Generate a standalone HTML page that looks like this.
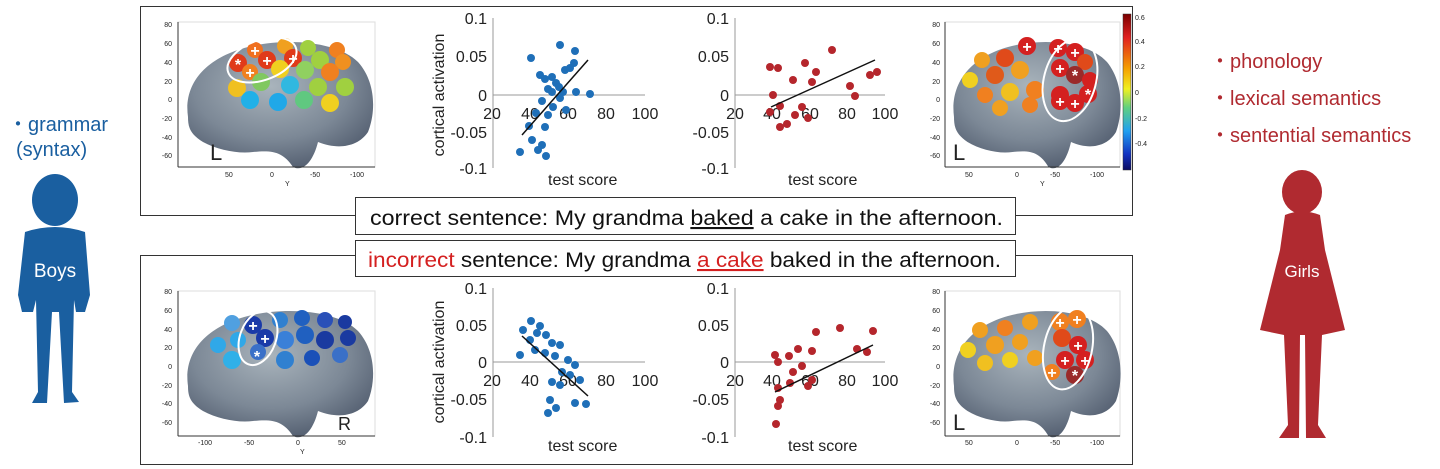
<!DOCTYPE html>
<html><head><meta charset="utf-8"><style>
body{margin:0;background:#fff;}
svg{display:block;font-family:"Liberation Sans","DejaVu Sans",sans-serif;}
</style></head><body>
<svg width="1440" height="469" viewBox="0 0 1440 469" xmlns="http://www.w3.org/2000/svg">
<defs>
<radialGradient id="br" cx="0.45" cy="0.35" r="0.7">
<stop offset="0" stop-color="#a9b4bc"/><stop offset="0.6" stop-color="#7c8896"/><stop offset="1" stop-color="#4f5a6c"/>
</radialGradient>
<linearGradient id="cb" x1="0" y1="0" x2="0" y2="1">
<stop offset="0" stop-color="#7a0000"/><stop offset="0.15" stop-color="#e02020"/><stop offset="0.35" stop-color="#f5a000"/><stop offset="0.48" stop-color="#f0f020"/><stop offset="0.6" stop-color="#60d080"/><stop offset="0.75" stop-color="#20a0f0"/><stop offset="0.9" stop-color="#1030c0"/><stop offset="1" stop-color="#0a0a60"/>
</linearGradient>
<g id="brain">
<path d="M10 95 C5 60 30 35 70 25 C110 15 160 20 180 40 C198 60 198 90 190 110 C180 125 160 128 140 120 C135 140 125 150 115 145 C105 130 95 128 75 130 C60 132 40 128 25 120 C12 112 10 105 10 95Z" fill="url(#br)"/>
</g>
</defs>
<rect x="140.5" y="6.5" width="992" height="209" fill="none" stroke="#333" stroke-width="1"/>
<rect x="140.5" y="255.5" width="992" height="209" fill="none" stroke="#333" stroke-width="1"/>
<rect x="355.5" y="197.5" width="660" height="37" fill="#fff" stroke="#333"/>
<rect x="355.5" y="240.5" width="660" height="36" fill="#fff" stroke="#333"/>
<text x="370" y="225" font-size="21" fill="#111" textLength="633" lengthAdjust="spacingAndGlyphs">correct sentence: My grandma <tspan text-decoration="underline">baked</tspan> a cake in the afternoon.</text>
<text x="368" y="267" font-size="21" fill="#111" textLength="633" lengthAdjust="spacingAndGlyphs"><tspan fill="#d42020">incorrect</tspan> sentence: My grandma <tspan fill="#d42020" text-decoration="underline">a cake</tspan> baked in the afternoon.</text>

<text x="8" y="131" font-size="20" fill="#1a5fa0">・grammar</text>
<text x="16" y="156" font-size="20" fill="#1a5fa0">(syntax)</text>
<g fill="#1a5fa0">
<ellipse cx="55" cy="200" rx="23" ry="26"/>
<path d="M25 232 Q55 222 85 232 L90 295 L85 312 L76 312 L74 300 L72 392 L79 402 L64 403 L59 312 L52 312 L47 403 L32 403 L38 392 L36 300 L33 312 L22 312 L18 295Z"/>
</g>
<text x="55" y="277" font-size="19" fill="#fff" text-anchor="middle">Boys</text>

<text x="1210" y="68" font-size="20" fill="#b02a30">・phonology</text>
<text x="1210" y="105" font-size="20" fill="#b02a30">・lexical semantics</text>
<text x="1210" y="142" font-size="20" fill="#b02a30">・sentential semantics</text>
<g fill="#b02a30">
<ellipse cx="1302" cy="192" rx="20" ry="22"/>
<path d="M1285 215 Q1302 208 1320 215 L1325 250 L1330 270 L1345 330 L1322 335 L1318 425 L1326 438 L1306 438 L1305 335 L1300 335 L1299 438 L1279 438 L1288 425 L1284 335 L1260 330 L1275 270 L1280 250Z"/>
</g>
<text x="1302" y="277" font-size="17" fill="#fff" text-anchor="middle">Girls</text>

<g font-size="7" fill="#222">
<g transform="translate(178,22)">
<rect x="0" y="0" width="197" height="145" fill="none" stroke="#ddd"/>
<use href="#brain"/>
<line x1="0" y1="0" x2="0" y2="145" stroke="#333"/><line x1="0" y1="145" x2="197" y2="145" stroke="#333"/>
</g>
<text x="172" y="27" text-anchor="end">80</text><text x="172" y="46" text-anchor="end">60</text><text x="172" y="65" text-anchor="end">40</text><text x="172" y="84" text-anchor="end">20</text><text x="172" y="102" text-anchor="end">0</text><text x="172" y="121" text-anchor="end">-20</text><text x="172" y="140" text-anchor="end">-40</text><text x="172" y="158" text-anchor="end">-60</text>
<text x="225" y="177">50</text><text x="270" y="177">0</text><text x="310" y="177">-50</text><text x="350" y="177">-100</text>
<text x="285" y="186">Y</text>
<text x="210" y="160" font-size="22">L</text>
<g transform="translate(945,22)">
<rect x="0" y="0" width="175" height="145" fill="none" stroke="#ddd"/>
<use href="#brain" transform="scale(0.9,1)"/>
<line x1="0" y1="0" x2="0" y2="145" stroke="#333"/><line x1="0" y1="145" x2="175" y2="145" stroke="#333"/>
</g>
<text x="940" y="27" text-anchor="end">80</text><text x="940" y="46" text-anchor="end">60</text><text x="940" y="65" text-anchor="end">40</text><text x="940" y="84" text-anchor="end">20</text><text x="940" y="102" text-anchor="end">0</text><text x="940" y="121" text-anchor="end">-20</text><text x="940" y="140" text-anchor="end">-40</text><text x="940" y="158" text-anchor="end">-60</text>
<text x="965" y="177">50</text><text x="1015" y="177">0</text><text x="1050" y="177">-50</text><text x="1090" y="177">-100</text>
<text x="1040" y="186">Y</text>
<text x="953" y="160" font-size="22">L</text>
<rect x="1123" y="14" width="8" height="156" fill="url(#cb)" stroke="#333" stroke-width="0.5"/>
<text x="1135" y="20">0.6</text><text x="1135" y="44">0.4</text><text x="1135" y="69">0.2</text><text x="1135" y="95">0</text><text x="1135" y="121">-0.2</text><text x="1135" y="146">-0.4</text>
<g transform="translate(178,291)">
<rect x="0" y="0" width="197" height="145" fill="none" stroke="#ddd"/>
<use href="#brain"/>
<line x1="0" y1="0" x2="0" y2="145" stroke="#333"/><line x1="0" y1="145" x2="197" y2="145" stroke="#333"/>
</g>
<text x="172" y="294" text-anchor="end">80</text><text x="172" y="313" text-anchor="end">60</text><text x="172" y="332" text-anchor="end">40</text><text x="172" y="350" text-anchor="end">20</text><text x="172" y="369" text-anchor="end">0</text><text x="172" y="388" text-anchor="end">-20</text><text x="172" y="406" text-anchor="end">-40</text><text x="172" y="425" text-anchor="end">-60</text>
<text x="198" y="445">-100</text><text x="244" y="445">-50</text><text x="296" y="445">0</text><text x="338" y="445">50</text>
<text x="300" y="454">Y</text>
<text x="338" y="430" font-size="18">R</text>
<g transform="translate(945,291)">
<rect x="0" y="0" width="175" height="145" fill="none" stroke="#ddd"/>
<use href="#brain" transform="scale(0.9,1)"/>
<line x1="0" y1="0" x2="0" y2="145" stroke="#333"/><line x1="0" y1="145" x2="175" y2="145" stroke="#333"/>
</g>
<text x="940" y="294" text-anchor="end">80</text><text x="940" y="313" text-anchor="end">60</text><text x="940" y="332" text-anchor="end">40</text><text x="940" y="350" text-anchor="end">20</text><text x="940" y="369" text-anchor="end">0</text><text x="940" y="388" text-anchor="end">-20</text><text x="940" y="406" text-anchor="end">-40</text><text x="940" y="425" text-anchor="end">-60</text>
<text x="965" y="445">50</text><text x="1015" y="445">0</text><text x="1050" y="445">-50</text><text x="1090" y="445">-100</text>
<text x="953" y="430" font-size="22">L</text>
</g>

<g>
<circle cx="238" cy="63" r="9" fill="#e03a1a"/><circle cx="255" cy="50" r="8" fill="#f07020"/><circle cx="267" cy="60" r="9" fill="#e03a1a"/><circle cx="250" cy="72" r="8" fill="#f08020"/>
<circle cx="285" cy="46" r="8" fill="#f0a020"/><circle cx="293" cy="58" r="9" fill="#e03a1a"/><circle cx="280" cy="69" r="9" fill="#f0d020"/>
<circle cx="308" cy="48" r="8" fill="#a0d040"/><circle cx="320" cy="60" r="9" fill="#a0d040"/><circle cx="337" cy="50" r="8" fill="#f08020"/><circle cx="343" cy="62" r="8" fill="#f09020"/>
<circle cx="305" cy="70" r="9" fill="#90d060"/><circle cx="330" cy="72" r="9" fill="#f08020"/><circle cx="237" cy="88" r="9" fill="#f0c020"/><circle cx="261" cy="82" r="9" fill="#80c860"/><circle cx="290" cy="85" r="9" fill="#30b8e0"/><circle cx="318" cy="87" r="9" fill="#a0d040"/><circle cx="345" cy="87" r="9" fill="#a0d040"/>
<circle cx="250" cy="100" r="9" fill="#20b0e8"/><circle cx="278" cy="102" r="9" fill="#20a8e8"/><circle cx="304" cy="100" r="9" fill="#60c880"/><circle cx="330" cy="103" r="9" fill="#f0d020"/>
<ellipse cx="262" cy="60" rx="36" ry="20" transform="rotate(-20 262 60)" fill="none" stroke="#fff" stroke-width="2"/>
<g fill="#fff" font-size="16" font-weight="bold" text-anchor="middle"><text x="255" y="56">+</text><text x="267" y="66">+</text><text x="250" y="78">+</text><text x="293" y="64">+</text><text x="238" y="70">*</text></g>
</g>
<g>
<circle cx="982" cy="60" r="8" fill="#f0a020"/><circle cx="1005" cy="58" r="9" fill="#e04a1a"/><circle cx="1027" cy="46" r="9" fill="#d42020"/><circle cx="1058" cy="48" r="9" fill="#d42020"/><circle cx="1075" cy="52" r="9" fill="#d42020"/><circle cx="1085" cy="62" r="8" fill="#e04a1a"/>
<circle cx="970" cy="80" r="8" fill="#f0d020"/><circle cx="995" cy="75" r="9" fill="#e05a1a"/><circle cx="1020" cy="70" r="9" fill="#f0a020"/><circle cx="1060" cy="68" r="9" fill="#d42020"/><circle cx="1075" cy="75" r="9" fill="#9a2a2a"/><circle cx="1090" cy="80" r="8" fill="#d42020"/>
<circle cx="985" cy="95" r="8" fill="#f08020"/><circle cx="1010" cy="92" r="9" fill="#f0c020"/><circle cx="1035" cy="90" r="9" fill="#f08020"/><circle cx="1060" cy="95" r="9" fill="#d42020"/><circle cx="1088" cy="94" r="9" fill="#d42020"/>
<circle cx="1000" cy="108" r="8" fill="#f0a020"/><circle cx="1030" cy="105" r="8" fill="#f08020"/><circle cx="1060" cy="101" r="9" fill="#d42020"/><circle cx="1075" cy="103" r="9" fill="#d42020"/>
<ellipse cx="1070" cy="80" rx="26" ry="42" transform="rotate(15 1070 80)" fill="none" stroke="#fff" stroke-width="2"/>
<g fill="#fff" font-size="16" font-weight="bold" text-anchor="middle"><text x="1027" y="52">+</text><text x="1058" y="54">+</text><text x="1075" y="58">+</text><text x="1060" y="74">+</text><text x="1075" y="81">*</text><text x="1060" y="107">+</text><text x="1075" y="109">+</text><text x="1088" y="100">*</text></g>
</g>
<g>
<circle cx="218" cy="345" r="8" fill="#30a8e8"/><circle cx="232" cy="323" r="8" fill="#50a0e0"/><circle cx="253" cy="325" r="9" fill="#1a3aa8"/><circle cx="265" cy="338" r="9" fill="#1a3aa8"/><circle cx="258" cy="352" r="8" fill="#3a70c8"/>
<circle cx="280" cy="320" r="8" fill="#3080d0"/><circle cx="302" cy="318" r="8" fill="#2060c0"/><circle cx="325" cy="320" r="8" fill="#2a50b8"/><circle cx="345" cy="322" r="7" fill="#1a3aa0"/>
<circle cx="238" cy="340" r="8" fill="#30a8e8"/><circle cx="285" cy="340" r="9" fill="#3a80d8"/><circle cx="305" cy="335" r="9" fill="#2060c0"/><circle cx="325" cy="340" r="9" fill="#1a3aa0"/><circle cx="348" cy="338" r="8" fill="#1a3aa0"/>
<circle cx="232" cy="360" r="9" fill="#30b0e8"/><circle cx="285" cy="360" r="9" fill="#3080d0"/><circle cx="312" cy="358" r="8" fill="#1a50b8"/><circle cx="340" cy="355" r="8" fill="#3a70c8"/>
<ellipse cx="258" cy="338" rx="18" ry="28" transform="rotate(20 258 338)" fill="none" stroke="#fff" stroke-width="2"/>
<g fill="#fff" font-size="16" font-weight="bold" text-anchor="middle"><text x="253" y="331">+</text><text x="265" y="344">+</text><text x="257" y="362">*</text></g>
</g>
<g>
<circle cx="980" cy="330" r="8" fill="#f0a020"/><circle cx="1005" cy="328" r="8" fill="#f08020"/><circle cx="1030" cy="322" r="8" fill="#f0a020"/><circle cx="1060" cy="322" r="9" fill="#f08020"/><circle cx="1077" cy="319" r="9" fill="#f08020"/>
<circle cx="968" cy="350" r="8" fill="#f0d020"/><circle cx="995" cy="345" r="9" fill="#f0a020"/><circle cx="1020" cy="342" r="8" fill="#f0a020"/><circle cx="1062" cy="338" r="9" fill="#e04a1a"/><circle cx="1078" cy="345" r="9" fill="#d42020"/>
<circle cx="985" cy="363" r="8" fill="#f0c020"/><circle cx="1010" cy="360" r="8" fill="#f0d020"/><circle cx="1035" cy="358" r="8" fill="#f0a020"/><circle cx="1065" cy="360" r="9" fill="#d42020"/><circle cx="1085" cy="360" r="9" fill="#d42020"/>
<circle cx="1052" cy="372" r="8" fill="#f08020"/><circle cx="1075" cy="375" r="9" fill="#9a2a2a"/>
<ellipse cx="1068" cy="348" rx="24" ry="42" transform="rotate(12 1068 348)" fill="none" stroke="#fff" stroke-width="2"/>
<g fill="#fff" font-size="16" font-weight="bold" text-anchor="middle"><text x="1060" y="328">+</text><text x="1077" y="325">+</text><text x="1078" y="351">+</text><text x="1065" y="366">+</text><text x="1085" y="366">+</text><text x="1052" y="378">+</text><text x="1075" y="381">*</text></g>
</g>

<g font-size="16" fill="#222">
<line x1="493" y1="18" x2="493" y2="168" stroke="#999"/><line x1="493" y1="95" x2="645" y2="95" stroke="#999"/>
<text x="487" y="24" text-anchor="end">0.1</text><text x="487" y="62" text-anchor="end">0.05</text><text x="487" y="101" text-anchor="end">0</text><text x="487" y="138" text-anchor="end">-0.05</text><text x="487" y="174" text-anchor="end">-0.1</text>
<text x="492" y="119" text-anchor="middle">20</text><text x="530" y="119" text-anchor="middle">40</text><text x="568" y="119" text-anchor="middle">60</text><text x="606" y="119" text-anchor="middle">80</text><text x="645" y="119" text-anchor="middle">100</text>
<text x="548" y="185">test score</text>
<text transform="translate(444,95) rotate(-90)" text-anchor="middle">cortical activation</text>
<line x1="735" y1="18" x2="735" y2="168" stroke="#999"/><line x1="735" y1="95" x2="885" y2="95" stroke="#999"/>
<text x="729" y="24" text-anchor="end">0.1</text><text x="729" y="62" text-anchor="end">0.05</text><text x="729" y="101" text-anchor="end">0</text><text x="729" y="138" text-anchor="end">-0.05</text><text x="729" y="174" text-anchor="end">-0.1</text>
<text x="735" y="119" text-anchor="middle">20</text><text x="772" y="119" text-anchor="middle">40</text><text x="810" y="119" text-anchor="middle">60</text><text x="847" y="119" text-anchor="middle">80</text><text x="885" y="119" text-anchor="middle">100</text>
<text x="788" y="185">test score</text>
<line x1="493" y1="288" x2="493" y2="437" stroke="#999"/><line x1="493" y1="362" x2="645" y2="362" stroke="#999"/>
<text x="487" y="294" text-anchor="end">0.1</text><text x="487" y="331" text-anchor="end">0.05</text><text x="487" y="368" text-anchor="end">0</text><text x="487" y="405" text-anchor="end">-0.05</text><text x="487" y="443" text-anchor="end">-0.1</text>
<text x="492" y="386" text-anchor="middle">20</text><text x="530" y="386" text-anchor="middle">40</text><text x="568" y="386" text-anchor="middle">60</text><text x="606" y="386" text-anchor="middle">80</text><text x="645" y="386" text-anchor="middle">100</text>
<text x="548" y="451">test score</text>
<text transform="translate(444,362) rotate(-90)" text-anchor="middle">cortical activation</text>
<line x1="735" y1="288" x2="735" y2="437" stroke="#999"/><line x1="735" y1="362" x2="885" y2="362" stroke="#999"/>
<text x="729" y="294" text-anchor="end">0.1</text><text x="729" y="331" text-anchor="end">0.05</text><text x="729" y="368" text-anchor="end">0</text><text x="729" y="405" text-anchor="end">-0.05</text><text x="729" y="443" text-anchor="end">-0.1</text>
<text x="735" y="386" text-anchor="middle">20</text><text x="772" y="386" text-anchor="middle">40</text><text x="810" y="386" text-anchor="middle">60</text><text x="847" y="386" text-anchor="middle">80</text><text x="885" y="386" text-anchor="middle">100</text>
<text x="788" y="451">test score</text>
</g>
<g fill="#1f6fb8">
<circle cx="531" cy="58" r="4"/><circle cx="560" cy="45" r="4"/><circle cx="575" cy="51" r="4"/><circle cx="574" cy="63" r="4"/><circle cx="565" cy="70" r="4"/><circle cx="570" cy="68" r="4"/><circle cx="540" cy="75" r="4"/><circle cx="545" cy="79" r="4"/><circle cx="552" cy="77" r="4"/><circle cx="556" cy="83" r="4"/><circle cx="559" cy="87" r="4"/><circle cx="548" cy="89" r="4"/><circle cx="552" cy="92" r="4"/><circle cx="563" cy="92" r="4"/><circle cx="576" cy="92" r="4"/><circle cx="590" cy="94" r="4"/><circle cx="542" cy="101" r="4"/><circle cx="553" cy="107" r="4"/><circle cx="566" cy="110" r="4"/><circle cx="536" cy="113" r="4"/><circle cx="548" cy="115" r="4"/><circle cx="529" cy="126" r="4"/><circle cx="545" cy="127" r="4"/><circle cx="532" cy="140" r="4"/><circle cx="542" cy="145" r="4"/><circle cx="538" cy="150" r="4"/><circle cx="520" cy="152" r="4"/><circle cx="546" cy="156" r="4"/><circle cx="560" cy="98" r="4"/>
</g>
<line x1="522" y1="135" x2="588" y2="60" stroke="#111" stroke-width="1.5"/>
<g fill="#b5262c">
<circle cx="832" cy="50" r="4"/><circle cx="805" cy="63" r="4"/><circle cx="770" cy="67" r="4"/><circle cx="778" cy="68" r="4"/><circle cx="816" cy="72" r="4"/><circle cx="877" cy="72" r="4"/><circle cx="870" cy="75" r="4"/><circle cx="793" cy="80" r="4"/><circle cx="812" cy="82" r="4"/><circle cx="850" cy="86" r="4"/><circle cx="773" cy="95" r="4"/><circle cx="855" cy="96" r="4"/><circle cx="780" cy="106" r="4"/><circle cx="802" cy="107" r="4"/><circle cx="770" cy="112" r="4"/><circle cx="795" cy="115" r="4"/><circle cx="808" cy="118" r="4"/><circle cx="787" cy="124" r="4"/><circle cx="780" cy="127" r="4"/>
</g>
<line x1="771" y1="107" x2="875" y2="60" stroke="#111" stroke-width="1.5"/>
<g fill="#1f6fb8">
<circle cx="531" cy="321" r="4"/><circle cx="540" cy="326" r="4"/><circle cx="523" cy="330" r="4"/><circle cx="537" cy="333" r="4"/><circle cx="546" cy="335" r="4"/><circle cx="530" cy="340" r="4"/><circle cx="552" cy="343" r="4"/><circle cx="560" cy="345" r="4"/><circle cx="520" cy="355" r="4"/><circle cx="535" cy="350" r="4"/><circle cx="545" cy="353" r="4"/><circle cx="555" cy="356" r="4"/><circle cx="568" cy="360" r="4"/><circle cx="575" cy="365" r="4"/><circle cx="562" cy="372" r="4"/><circle cx="570" cy="375" r="4"/><circle cx="552" cy="382" r="4"/><circle cx="560" cy="385" r="4"/><circle cx="580" cy="380" r="4"/><circle cx="550" cy="400" r="4"/><circle cx="556" cy="408" r="4"/><circle cx="548" cy="413" r="4"/><circle cx="586" cy="404" r="4"/><circle cx="575" cy="403" r="4"/>
</g>
<line x1="522" y1="336" x2="588" y2="396" stroke="#111" stroke-width="1.5"/>
<g fill="#b5262c">
<circle cx="873" cy="331" r="4"/><circle cx="840" cy="328" r="4"/><circle cx="816" cy="332" r="4"/><circle cx="857" cy="349" r="4"/><circle cx="867" cy="352" r="4"/><circle cx="798" cy="349" r="4"/><circle cx="812" cy="351" r="4"/><circle cx="789" cy="356" r="4"/><circle cx="775" cy="355" r="4"/><circle cx="778" cy="362" r="4"/><circle cx="802" cy="366" r="4"/><circle cx="793" cy="372" r="4"/><circle cx="812" cy="380" r="4"/><circle cx="790" cy="383" r="4"/><circle cx="778" cy="388" r="4"/><circle cx="780" cy="400" r="4"/><circle cx="778" cy="406" r="4"/><circle cx="776" cy="424" r="4"/><circle cx="808" cy="386" r="4"/>
</g>
<line x1="775" y1="392" x2="873" y2="345" stroke="#111" stroke-width="1.5"/>
</svg>
</body></html>
